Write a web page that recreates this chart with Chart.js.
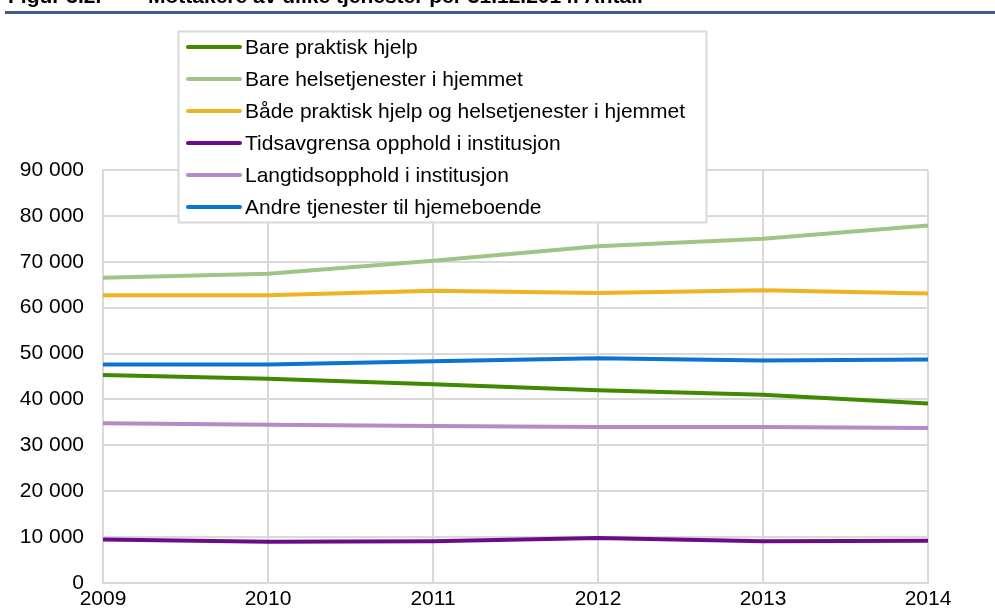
<!DOCTYPE html>
<html>
<head>
<meta charset="utf-8">
<script src="https://cdn.jsdelivr.net/npm/chart.js@4/dist/chart.umd.min.js"></script>
<style>
html,body{margin:0;padding:0;background:#fff;}
#wrap{width:995px;height:615px;position:relative;}
</style>
</head>
<body>
<div id="wrap"><canvas id="c" width="995" height="615"></canvas></div>
<script>
const years = ['2009', '2010', '2011', '2012', '2013', '2014'];
const barePraktiskHjelp = [45300, 44500, 43300, 42000, 41000, 39100];
const bareHelsetjenester = [66500, 67400, 70200, 73400, 75000, 77900];
const badePraktiskOgHelse = [62700, 62700, 63700, 63200, 63800, 63100];
const tidsavgrensaOpphold = [9500, 9000, 9100, 9800, 9100, 9200];
const langtidsopphold = [34800, 34500, 34200, 34000, 34000, 33800];
const andreTjenester = [47600, 47600, 48300, 49000, 48500, 48700];

const seriesLabels = [
  'Bare praktisk hjelp',
  'Bare helsetjenester i hjemmet',
  'Både praktisk hjelp og helsetjenester i hjemmet',
  'Tidsavgrensa opphold i institusjon',
  'Langtidsopphold i institusjon',
  'Andre tjenester til hjemeboende'
];
const titleNumber = 'Figur 3.2.';
const titleText = 'Mottakere av ulike tjenester per 31.12.2014. Antall';

const FONT = '"Liberation Sans", Arial, sans-serif';

function fmt(v) {
  return String(v).replace(/\B(?=(\d{3})+(?!\d))/g, ' ');
}

function ds(label, data, color) {
  return {
    label: label,
    data: data,
    borderColor: color,
    backgroundColor: color,
    borderWidth: 4,
    pointRadius: 0,
    pointHoverRadius: 0,
    tension: 0,
    fill: false,
    borderCapStyle: 'butt',
    borderJoinStyle: 'round'
  };
}

const headerPlugin = {
  id: 'header',
  afterDraw(chart) {
    const ctx = chart.ctx;
    ctx.save();
    ctx.fillStyle = '#000';
    ctx.font = 'bold 21px ' + FONT;
    ctx.textBaseline = 'alphabetic';
    ctx.textAlign = 'left';
    ctx.fillText(titleNumber, 8, 3);
    ctx.fillText(titleText, 148, 3);
    ctx.fillStyle = '#3f5a8a';
    ctx.fillRect(5, 11, 990, 3);
    ctx.restore();
  }
};

const boxLegendPlugin = {
  id: 'boxLegend',
  afterDraw(chart) {
    const ctx = chart.ctx;
    ctx.save();
    const x0 = 178.5, y0 = 31.5, w = 528, h = 191;
    ctx.fillStyle = '#fff';
    ctx.fillRect(x0, y0, w, h);
    ctx.strokeStyle = '#d9d9d9';
    ctx.lineWidth = 2;
    ctx.strokeRect(x0, y0, w, h);
    ctx.font = '21px ' + FONT;
    ctx.textBaseline = 'middle';
    ctx.textAlign = 'left';
    chart.data.datasets.forEach((d, i) => {
      const y = 47 + i * 32;
      ctx.strokeStyle = d.borderColor;
      ctx.lineWidth = 4;
      ctx.lineCap = 'round';
      ctx.beginPath();
      ctx.moveTo(188, y);
      ctx.lineTo(240, y);
      ctx.stroke();
      ctx.fillStyle = '#000';
      ctx.fillText(d.label, 245, y + 1);
    });
    ctx.restore();
  }
};

new Chart(document.getElementById('c'), {
  type: 'line',
  data: {
    labels: years,
    datasets: [
      ds(seriesLabels[0], barePraktiskHjelp, '#3f8a00'),
      ds(seriesLabels[1], bareHelsetjenester, '#9fc585'),
      ds(seriesLabels[2], badePraktiskOgHelse, '#efb423'),
      ds(seriesLabels[3], tidsavgrensaOpphold, '#6c0b8a'),
      ds(seriesLabels[4], langtidsopphold, '#b689c7'),
      ds(seriesLabels[5], andreTjenester, '#0b74d1')
    ]
  },
  options: {
    responsive: false,
    animation: false,
    events: [],
    layout: { padding: { left: 0, right: 67, top: 170, bottom: 0 } },
    plugins: {
      legend: { display: false },
      title: { display: false },
      tooltip: { enabled: false }
    },
    scales: {
      x: {
        offset: false,
        grid: { color: '#d9d9d9', lineWidth: 2, drawTicks: false },
        border: { color: '#d9d9d9', width: 2 },
        ticks: {
          color: '#000',
          font: { family: FONT, size: 21 },
          padding: 4,
          maxRotation: 0,
          autoSkip: false
        },
        afterFit(scale) { scale.height = 32; }
      },
      y: {
        min: 0,
        max: 90000,
        grid: { color: '#d9d9d9', lineWidth: 2, drawTicks: false },
        border: { color: '#d9d9d9', width: 2 },
        ticks: {
          stepSize: 10000,
          color: '#000',
          font: { family: FONT, size: 21 },
          padding: 19,
          callback: (v) => fmt(v)
        },
        afterFit(scale) { scale.width = 103; }
      }
    }
  },
  plugins: [headerPlugin, boxLegendPlugin]
});
</script>
</body>
</html>
